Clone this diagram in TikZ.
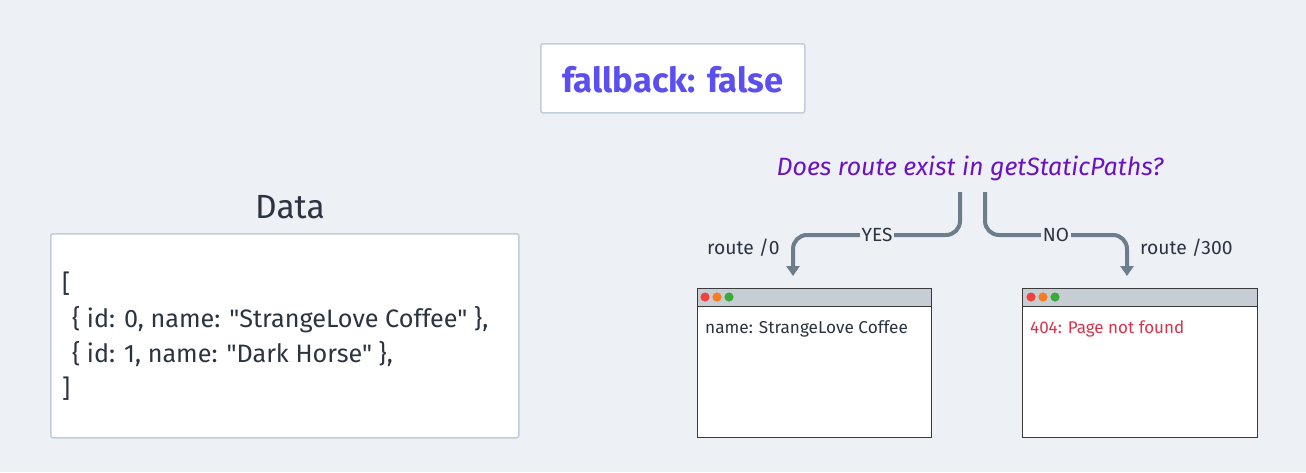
\documentclass[tikz,border=0pt]{standalone}
\usepackage{fontspec}
\setmainfont{Fira Sans}
\newfontfamily\datafont{Fira Sans}
\usetikzlibrary{arrows.meta,calc}
\definecolor{bg}{HTML}{EDF0F5}
\definecolor{boxline}{HTML}{C3CDD9}
\definecolor{fbtext}{HTML}{5B4FF0}
\definecolor{qtext}{HTML}{6C12C0}
\definecolor{ink}{HTML}{2B3440}
\definecolor{conn}{HTML}{6E7D8C}
\definecolor{errred}{HTML}{D8334A}
\definecolor{tbar}{HTML}{C7CDD4}
\definecolor{wline}{HTML}{3A3A3A}
\definecolor{dred}{HTML}{F0423E}
\definecolor{dorange}{HTML}{F57C1F}
\definecolor{dgreen}{HTML}{3AAA3A}
\tikzset{
  cardbox/.style={draw=boxline, line width=1.5pt, fill=white, rounded corners=2pt},
  connline/.style={draw=conn, line width=4pt, rounded corners=14pt, -{Triangle[width=13pt,length=10pt]}, line join=round},
  edgelabel/.style={fill=bg, inner sep=2pt, text=ink, font=\fontsize{19}{21}\selectfont},
  routelabel/.style={text=ink, font=\fontsize{19.3}{21}\selectfont, inner sep=0pt},
  winbody/.style={draw=wline, line width=1.3pt, fill=white},
  winbar/.style={draw=wline, line width=1.3pt, fill=tbar},
}
\begin{document}
\begin{tikzpicture}[x=1pt,y=-1pt]
\fill[bg] (0,0) rectangle (1306,472);
\useasboundingbox (0,0) rectangle (1306,472);

% fallback box
\node[cardbox, minimum width=264pt, minimum height=69pt, anchor=north west] (fb) at (540,43) {};
\node[text=fbtext, font=\fontsize{34.5}{38}\selectfont\bfseries] (fbt) at ([yshift=-1pt]fb.center) {fallback: false};

% question
\node[text=qtext, font=\fontsize{25}{28}\selectfont\itshape, inner sep=0pt] (q) at (970,168) {Does route exist in getStaticPaths?};

% Data title and box
\node[text=ink, font=\fontsize{33.5}{36}\selectfont, inner sep=0pt] (dt) at (290,207) {Data};
\node[cardbox, minimum width=468pt, minimum height=204pt, anchor=north west] (db) at (50,233) {};
\node[text=ink, font=\datafont\fontsize{25.2}{35}\selectfont, anchor=north west, align=left, inner sep=0pt] (dtext) at (62,272)
  {[\\\hspace*{10pt}\{ id: 0, name: "StrangeLove Coffee" \},\\\hspace*{10pt}\{ id: 1, name: "Dark Horse" \},\\]};

% left window
\node[winbody, minimum width=234pt, minimum height=149pt, anchor=north west] (lw) at (697,288) {};
\node[winbar, minimum width=234pt, minimum height=18pt, anchor=north west] (lbar) at (697,288) {};
\fill[dred] (705,297) circle (4.6pt);
\fill[dorange] (717,297) circle (4.6pt);
\fill[dgreen] (729,297) circle (4.6pt);
\node[text=ink, font=\fontsize{17.2}{19}\selectfont, anchor=west, inner sep=0pt] (lt) at (705,329) {name: StrangeLove Coffee};

% right window
\node[winbody, minimum width=235pt, minimum height=149pt, anchor=north west] (rw) at (1022,288) {};
\node[winbar, minimum width=235pt, minimum height=18pt, anchor=north west] (rbar) at (1022,288) {};
\fill[dred] (1031,297) circle (4.6pt);
\fill[dorange] (1043,297) circle (4.6pt);
\fill[dgreen] (1055,297) circle (4.6pt);
\node[text=errred, font=\fontsize{17}{19}\selectfont, anchor=west, inner sep=0pt] (rt) at (1030,329) {404: Page not found};

% connectors
\coordinate (s1) at (960,192);
\coordinate (s2) at (985,192);
\coordinate (t1) at (793,276);
\coordinate (t2) at (1127,276);
\draw[connline] (s1) -- (960,235) -- (793,235) -- (t1);
\draw[connline] (s2) -- (985,235) -- (1127,235) -- (t2);
\node[edgelabel] (yes) at (877,235) {YES};
\node[edgelabel] (no) at (1056,235) {NO};

\node[routelabel, anchor=west] (r0) at (707,248) {route /0};
\node[routelabel, anchor=west] (r300) at (1140,248) {route /300};
\end{tikzpicture}
\end{document}
